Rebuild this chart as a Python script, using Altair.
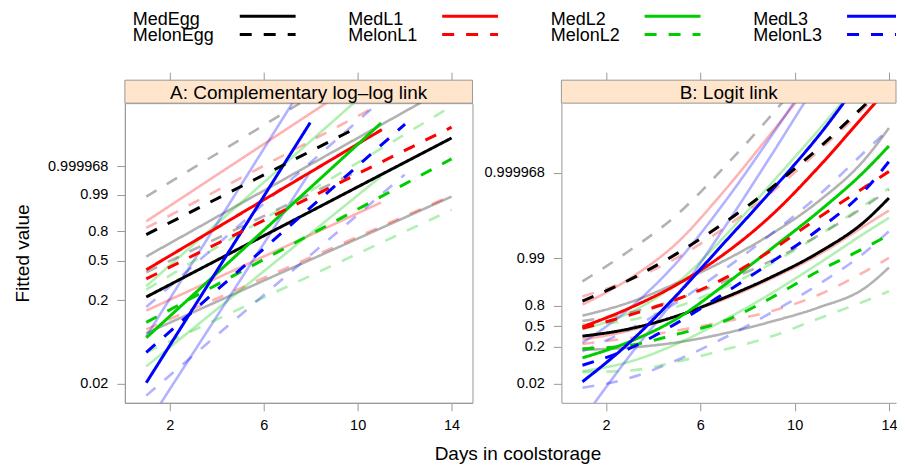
import math
import altair as alt
import pandas as pd

FONT = "Liberation Sans"

# ---------------- data ----------------
series = ["MedEgg", "MedL1", "MedL2", "MedL3", "MelonEgg", "MelonL1", "MelonL2", "MelonL3"]
series_colors = ["#000000", "#FF0000", "#00CD00", "#0000FF", "#000000", "#FF0000", "#00CD00", "#0000FF"]
series_dash = [[1, 0]] * 4 + [[12, 12]] * 4
legend_col = [0, 1, 2, 3, 0, 1, 2, 3]
legend_row = [0, 0, 0, 0, 1, 1, 1, 1]

prob_labels = ["0.02", "0.2", "0.5", "0.8", "0.99", "0.999968"]
day_ticks = [2, 6, 10, 14]

# Panel A: complementary log-log scale, (day, value) end points of straight lines
A_fit = {
    "MedEgg": [(1, -1.41), (14, 3.15)],
    "MelonEgg": [(1, 0.38), (10.07, 3.48)],
    "MedL1": [(1, -0.63), (11.03, 3.39)],
    "MelonL1": [(1, -0.89), (14, 3.46)],
    "MedL2": [(1, -2.58), (11, 3.58)],
    "MelonL2": [(1, -2.14), (14, 2.55)],
    "MedL3": [(1, -3.87), (7.98, 3.59)],
    "MelonL3": [(1, -3.0), (12.02, 3.55)],
}
A_rep1 = {
    "MedEgg": [(1, -0.25), (12.7, 4.17)],
    "MelonEgg": [(1, 1.47), (7.6, 4.17)],
    "MedL1": [(1, 0.76), (8.7, 4.17)],
    "MelonL1": [(1, 0.57), (10.9, 4.1)],
    "MedL2": [(1, -1.1), (9.86, 4.17)],
    "MelonL2": [(1, -1.2), (13.75, 3.96)],
    "MedL3": [(1, -2.54), (7.24, 4.17)],
    "MelonL3": [(1, -1.7), (10.9, 4.17)],
}
A_rep2 = {
    "MedEgg": [(1, -2.45), (14, 1.47)],
    "MelonEgg": [(1, -0.7), (10, 2.2)],
    "MedL1": [(1, -1.8), (11, 1.3)],
    "MelonL1": [(1, -2.34), (14, 1.5)],
    "MedL2": [(1, -3.4), (11, 2.05)],
    "MelonL2": [(1, -3.0), (14, 1.09)],
    "MedL3": [(1, -5.1), (8, 2.2)],
    "MelonL3": [(1, -4.24), (12, 2.1)],
}

# Panel B: logit scale, values at these days
B_days = [1, 3, 5, 7, 9, 11, 13, 14]
B_fit = {
    "MedEgg": [-0.68, -0.18, 0.68, 1.90, 3.3, 4.95, 7.1, 8.64],
    "MelonEgg": [1.68, 3.13, 4.89, 6.95, 9.31, 11.98, 14.95, 16.5],
    "MedL1": [-0.05, 1.22, 2.8, 4.85, 7.45, 10.7, 14.3, 16.1],
    "MelonL1": [-0.15, 0.75, 1.8, 3.2, 5.1, 7.3, 9.4, 10.43],
    "MedL2": [-2.14, -1.05, 0.5, 2.75, 5.2, 7.7, 10.5, 12.15],
    "MelonL2": [-1.53, -1.3, -0.55, 0.33, 1.9, 3.7, 5.3, 6.15],
    "MedL3": [-3.75, -1.1, 2.1, 5.6, 9.1, 12.8, 17.0, 19.0],
    "MelonL3": [-2.64, -1.5, 0.2, 2.2, 4.3, 6.5, 9.2, 11.1],
}
B_rep1 = {
    "MedEgg": [0.71, 1.6, 2.9, 4.4, 6.2, 8.4, 11.3, 13.36],
    "MelonEgg": [3.02, 5.1, 7.5, 10.7, 14.2, 18.0, 22.0, 24.0],
    "MedL1": [1.45, 3.2, 5.6, 9.1, 13.0, 17.0, 21.0, 23.0],
    "MelonL1": [2.0, 3.1, 4.6, 6.6, 9.0, 11.8, 14.8, 16.5],
    "MedL2": [-0.2, 0.9, 2.9, 6.0, 9.6, 13.2, 17.0, 19.0],
    "MelonL2": [0.1, 0.4, 1.3, 2.6, 4.2, 6.1, 8.2, 9.3],
    "MedL3": [-1.13, 1.2, 4.3, 8.3, 12.8, 17.5, 22.0, 24.5],
    "MelonL3": [-1.7, -0.2, 1.6, 3.8, 6.2, 8.8, 11.8, 13.3],
}
B_rep2 = {
    "MedEgg": [-1.6, -1.45, -1.1, -0.5, 0.3, 1.25, 2.6, 3.95],
    "MelonEgg": [0.35, 0.9, 1.8, 3.0, 4.4, 6.1, 8.1, 9.2],
    "MedL1": [-0.9, -0.3, 0.7, 1.8, 3.2, 4.8, 6.8, 7.8],
    "MelonL1": [-1.2, -0.8, -0.3, 0.3, 1.0, 2.1, 3.7, 4.6],
    "MedL2": [-3.04, -2.4, -1.2, 0.4, 2.2, 4.2, 6.3, 7.3],
    "MelonL2": [-3.1, -3.0, -2.4, -1.6, -0.7, 0.5, 1.7, 2.35],
    "MedL3": [-6.3, -2.0, 2.0, 6.6, 11.5, 16.5, 21.0, 23.5],
    "MelonL3": [-4.16, -3.5, -2.3, -0.8, 0.9, 2.8, 5.0, 6.4],
}

strip_A = "A: Complementary log\u2013log link"
strip_B = "B: Logit link"
x_title = "Days in coolstorage"
y_title = "Fitted value"


# ---------------- helpers ----------------
def cloglog(p):
    return math.log(-math.log(1 - p))


def logit(p):
    return math.log(p / (1 - p))


def label_expr(pos):
    s = ""
    for v, lab in zip(pos, prob_labels):
        s += f"abs(datum.value - ({v:.6f})) < 0.001 ? '{lab}' : "
    return s + "''"


rows_A = []
for s in series:
    for kind, src in (("rep1", A_rep1), ("rep2", A_rep2), ("fit", A_fit)):
        for d, v in src[s]:
            rows_A.append({"series": s, "kind": kind, "line": s + kind, "day": d, "value": v})
df_A = pd.DataFrame(rows_A)

rows_B = []
for s in series:
    for kind, src in (("rep1", B_rep1), ("rep2", B_rep2), ("fit", B_fit)):
        for d, v in zip(B_days, src[s]):
            rows_B.append({"series": s, "kind": kind, "line": s + kind, "day": d, "value": v})
df_B = pd.DataFrame(rows_B)

color_enc = alt.Color("series:N", scale=alt.Scale(domain=series, range=series_colors), legend=None)
dash_enc = alt.StrokeDash("series:N", scale=alt.Scale(domain=series, range=series_dash), legend=None)

PLOT_H = 300
STRIP_H = 23


def panel(df, strip, W, xdom, ydom, tick_pos, interp, ytitle, border):
    xs = alt.Scale(domain=xdom, nice=False, zero=False)
    ys = alt.Scale(domain=ydom, nice=False, zero=False)
    yaxis = alt.Axis(values=tick_pos, labelExpr=label_expr(tick_pos), title=ytitle,
                     tickSize=8, labelPadding=9, titlePadding=15)
    sdf = pd.DataFrame({"label": [strip]})
    rect = alt.Chart(sdf).mark_rect(fill="#ffe5cc", stroke="#999999", strokeWidth=1).encode(
        x=alt.value(0), x2=alt.value(W), y=alt.value(-STRIP_H), y2=alt.value(0))
    txt = alt.Chart(sdf).mark_text(fontSize=19, font=FONT, baseline="middle", color="black").encode(
        x=alt.value(W / 2), y=alt.value(-STRIP_H / 2 + 1), text="label:N")
    light = alt.Chart(df[df.kind != "fit"]).mark_line(
        clip=True, strokeWidth=2.6, opacity=0.3, interpolate=interp).encode(
        x=alt.X("day:Q", scale=xs, axis=alt.Axis(orient="top", offset=STRIP_H, labels=False, domain=False,
                                                  values=day_ticks, title=None, tickSize=8)),
        y=alt.Y("value:Q", scale=ys, axis=yaxis),
        color=color_enc, strokeDash=dash_enc, detail="line:N")
    fit = alt.Chart(df[df.kind == "fit"]).mark_line(
        clip=True, strokeWidth=3, interpolate=interp).encode(
        x=alt.X("day:Q", scale=xs, axis=alt.Axis(orient="bottom", values=day_ticks, title=None,
                                                  tickSize=8, labelPadding=8)),
        y=alt.Y("value:Q", scale=ys, axis=yaxis),
        color=color_enc, strokeDash=dash_enc, detail="line:N")
    ch = alt.layer(rect, txt, light, fit).resolve_axis(x="independent").properties(width=W, height=PLOT_H)
    if not border:
        ch = ch.properties(view=alt.ViewBackground(stroke=None))
    return ch


A_ticks = [cloglog(float(p)) for p in prob_labels]
B_ticks = [logit(float(p)) for p in prob_labels]

panelA = panel(df_A, strip_A, 348, [0.089, 14.89], [-4.446, 4.15], A_ticks, "linear", y_title, True)
panelB = panel(df_B, strip_B, 335, [0.106, 14.30], [-5.172, 15.04], B_ticks, "monotone", None, False)

# ---------------- legend (origin aligned with panel A's plot area) ----------------
leg_df = pd.DataFrame({"series": series, "col": legend_col, "row": legend_row})
lx = alt.Scale(domain=[0, 3], range=[115, 723])
ly_rule = alt.Scale(domain=[0, 1], range=[8, 26.3])
ly_text = alt.Scale(domain=[0, 1], range=[17, 32.7])
lbase = alt.Chart(leg_df).transform_calculate(col_end="datum.col + 0.276")
leg_rules = lbase.mark_rule(strokeWidth=3, clip=True).encode(
    x=alt.X("col:Q", scale=lx, axis=None), x2="col_end:Q",
    y=alt.Y("row:Q", scale=ly_rule, axis=None), color=color_enc, strokeDash=dash_enc)
leg_t0 = lbase.transform_filter("datum.col == 0").mark_text(
    align="left", baseline="alphabetic", dx=-107, fontSize=18, font=FONT, color="black").encode(
    x=alt.X("col:Q", scale=lx, axis=None), y=alt.Y("row:Q", scale=ly_text, axis=None), text="series:N")
leg_t1 = lbase.transform_filter("datum.col > 0").mark_text(
    align="left", baseline="alphabetic", dx=-94, fontSize=18, font=FONT, color="black").encode(
    x=alt.X("col:Q", scale=lx, axis=None), y=alt.Y("row:Q", scale=ly_text, axis=None), text="series:N")
legend = alt.layer(leg_rules, alt.layer(leg_t0, leg_t1)).resolve_scale(y="independent").properties(
    width=772, height=45, view=alt.ViewBackground(stroke=None, fill="white"))

chart = alt.vconcat(
    legend,
    alt.hconcat(panelA, panelB, spacing=89, bounds="flush"),
    spacing=50,
    bounds="flush",
).properties(
    padding={"left": 5, "top": 0, "right": 0, "bottom": 0},
    title=alt.TitleParams(x_title, orient="bottom", anchor="middle", frame="bounds", dx=63, offset=12,
                          fontSize=19, fontWeight="normal", font=FONT, color="black"),
).configure_axis(
    labelFont=FONT, titleFont=FONT, labelFontSize=14.5, titleFontSize=19, titleFontWeight="normal",
    labelColor="black", titleColor="black", tickColor="#999999", domainColor="#999999", grid=False,
).configure_view(stroke="#999999")

chart.save("out.html", embed_options={"renderer": "svg", "actions": False})
